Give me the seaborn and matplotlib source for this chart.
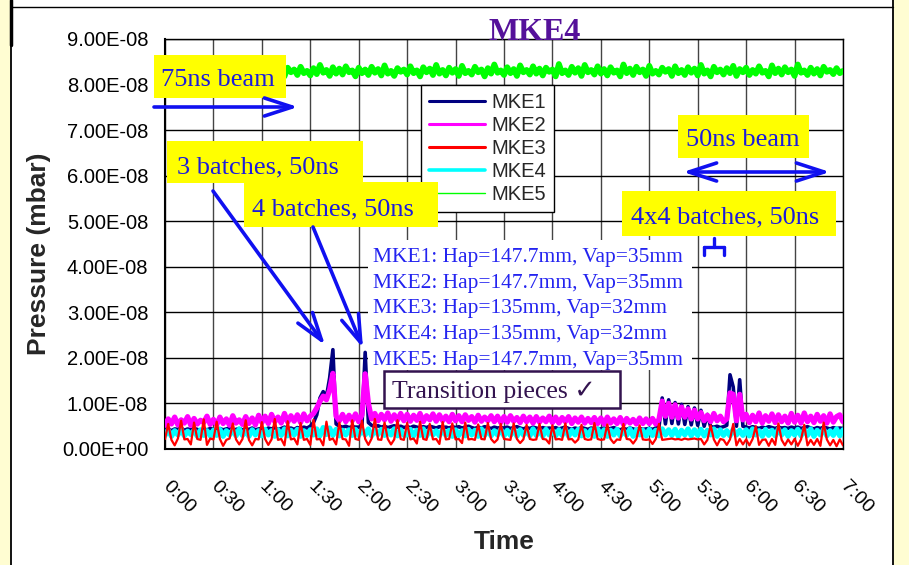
import numpy as np
import matplotlib
matplotlib.use("Agg")
import matplotlib.pyplot as plt
import seaborn as sns
from matplotlib.patches import Rectangle, FancyArrowPatch, ArrowStyle
from matplotlib.lines import Line2D
from matplotlib.ticker import FuncFormatter

# ---------------- data (pressure in units of 1e-8 mbar, sampled every 2 min) ----------------
time_min = np.arange(0, 421, 2)
tick_minutes = [0, 30, 60, 90, 120, 150, 180, 210, 240, 270, 300, 330, 360, 390, 420]
tick_labels = ["0:00", "0:30", "1:00", "1:30", "2:00", "2:30", "3:00", "3:30",
               "4:00", "4:30", "5:00", "5:30", "6:00", "6:30", "7:00"]
y_ticks = [0, 1, 2, 3, 4, 5, 6, 7, 8, 9]
series_names = ["MKE1", "MKE2", "MKE3", "MKE4", "MKE5"]

mke1 = [0.42, 0.45, 0.40, 0.44, 0.43, 0.46, 0.41, 0.44, 0.42, 0.45, 0.43, 0.40, 0.44, 0.42, 0.45,
        0.43, 0.41, 0.45, 0.42, 0.44, 0.46, 0.41, 0.43, 0.45, 0.42, 0.44, 0.43, 0.46, 0.42, 0.44,
        0.45, 0.42, 0.46, 0.44, 0.47, 0.43, 0.45, 0.48, 0.44, 0.46, 0.43, 0.47, 0.45, 0.48, 0.46,
        0.50, 0.58, 0.75, 1.12, 1.26, 1.15, 1.56, 2.18, 0.55, 0.50, 0.48, 0.50, 0.47, 0.49, 0.48,
        0.48, 0.50, 2.12, 0.58, 0.52, 0.49, 0.51, 0.48, 0.50, 0.47, 0.49, 0.51, 0.48, 0.50, 0.47,
        0.49, 0.47, 0.50, 0.48, 0.46, 0.49, 0.47, 0.50, 0.48, 0.46, 0.49, 0.47, 0.48, 0.46, 0.49,
        0.47, 0.49, 0.46, 0.48, 0.50, 0.47, 0.45, 0.48, 0.46, 0.49, 0.47, 0.45, 0.48, 0.46, 0.47,
        0.46, 0.48, 0.45, 0.47, 0.49, 0.46, 0.44, 0.47, 0.45, 0.48, 0.46, 0.44, 0.47, 0.45, 0.46,
        0.45, 0.47, 0.44, 0.46, 0.48, 0.45, 0.43, 0.46, 0.44, 0.47, 0.45, 0.43, 0.46, 0.44, 0.45,
        0.44, 0.46, 0.43, 0.45, 0.47, 0.44, 0.42, 0.45, 0.43, 0.46, 0.44, 0.42, 0.45, 0.43, 0.44,
        0.45, 0.43, 0.46, 0.48, 1.12, 0.55, 1.08, 0.56, 1.02, 0.55, 0.98, 0.54, 0.93, 0.53, 0.90,
        0.52, 0.85, 0.50, 0.76, 0.49, 0.48, 0.50, 0.47, 0.49, 0.52, 1.63, 1.36, 0.50, 1.52, 0.50,
        0.48, 0.46, 0.49, 0.47, 0.45, 0.48, 0.46, 0.49, 0.47, 0.45, 0.48, 0.46, 0.47, 0.45, 0.48,
        0.46, 0.48, 0.45, 0.47, 0.49, 0.46, 0.44, 0.47, 0.45, 0.48, 0.46, 0.44, 0.47, 0.45, 0.46,
        0.45]

mke2 = [0.52, 0.66, 0.55, 0.70, 0.53, 0.64, 0.57, 0.71, 0.52, 0.67, 0.55, 0.63, 0.58, 0.72, 0.54,
        0.65, 0.53, 0.70, 0.56, 0.66, 0.52, 0.73, 0.57, 0.64, 0.54, 0.71, 0.56, 0.68, 0.53, 0.74,
        0.58, 0.72, 0.56, 0.76, 0.60, 0.70, 0.57, 0.78, 0.59, 0.73, 0.61, 0.75, 0.58, 0.77, 0.62,
        0.72, 0.78, 0.90, 1.05, 1.16, 1.08, 1.30, 1.66, 0.72, 0.62, 0.76, 0.60, 0.74, 0.62, 0.77,
        0.60, 0.75, 1.65, 1.00, 0.66, 0.78, 0.62, 0.76, 0.64, 0.79, 0.61, 0.75, 0.63, 0.78, 0.62,
        0.76, 0.61, 0.74, 0.63, 0.78, 0.60, 0.73, 0.64, 0.77, 0.61, 0.75, 0.62, 0.72, 0.60, 0.76,
        0.62, 0.73, 0.60, 0.75, 0.63, 0.71, 0.59, 0.74, 0.61, 0.70, 0.62, 0.73, 0.60, 0.72, 0.58,
        0.71, 0.59, 0.73, 0.61, 0.69, 0.58, 0.72, 0.60, 0.70, 0.57, 0.71, 0.59, 0.68, 0.60, 0.72,
        0.58, 0.70, 0.57, 0.69, 0.60, 0.71, 0.56, 0.68, 0.59, 0.70, 0.57, 0.67, 0.58, 0.69, 0.56,
        0.68, 0.55, 0.70, 0.57, 0.66, 0.56, 0.69, 0.54, 0.67, 0.57, 0.65, 0.55, 0.68, 0.56, 0.66,
        0.56, 0.67, 0.55, 0.65, 1.05, 0.72, 1.00, 0.70, 0.97, 0.68, 0.92, 0.70, 0.88, 0.66, 0.85,
        0.66, 0.80, 0.62, 0.74, 0.60, 0.78, 0.62, 0.72, 0.60, 0.66, 1.23, 1.20, 0.62, 1.20, 0.64,
        0.76, 0.58, 0.74, 0.60, 0.79, 0.57, 0.73, 0.61, 0.77, 0.58, 0.75, 0.60, 0.72, 0.57, 0.78,
        0.59, 0.74, 0.57, 0.79, 0.60, 0.72, 0.58, 0.76, 0.61, 0.73, 0.57, 0.77, 0.59, 0.71, 0.75,
        0.60]

mke3 = [0.22, 0.55, 0.20, 0.08, 0.23, 0.62, 0.21, 0.22, 0.10, 0.58, 0.22, 0.20, 0.65, 0.09, 0.23,
        0.21, 0.60, 0.22, 0.07, 0.20, 0.23, 0.56, 0.21, 0.10, 0.22, 0.63, 0.20, 0.08, 0.22, 0.21,
        0.59, 0.22, 0.09, 0.21, 0.66, 0.20, 0.22, 0.08, 0.61, 0.21, 0.23, 0.10, 0.57, 0.20, 0.22,
        0.09, 0.64, 0.21, 0.22, 0.08, 0.60, 0.20, 0.23, 0.10, 0.58, 0.22, 0.21, 0.07, 0.63, 0.22,
        0.20, 0.62, 0.22, 0.09, 0.23, 0.66, 0.21, 0.20, 0.58, 0.22, 0.10, 0.21, 0.63, 0.22, 0.20,
        0.57, 0.21, 0.23, 0.12, 0.60, 0.22, 0.20, 0.55, 0.21, 0.22, 0.11, 0.59, 0.21, 0.22, 0.56,
        0.21, 0.22, 0.13, 0.58, 0.21, 0.22, 0.20, 0.54, 0.22, 0.21, 0.57, 0.22, 0.14, 0.21, 0.55,
        0.22, 0.21, 0.20, 0.56, 0.22, 0.13, 0.21, 0.53, 0.22, 0.20, 0.21, 0.55, 0.22, 0.21, 0.12,
        0.52, 0.21, 0.22, 0.20, 0.56, 0.21, 0.22, 0.14, 0.21, 0.53, 0.22, 0.20, 0.21, 0.57, 0.22,
        0.20, 0.21, 0.54, 0.22, 0.13, 0.21, 0.20, 0.55, 0.22, 0.21, 0.12, 0.22, 0.52, 0.21, 0.20,
        0.21, 0.11, 0.22, 0.55, 0.20, 0.21, 0.22, 0.23, 0.21, 0.22, 0.20, 0.23, 0.21, 0.22, 0.23,
        0.21, 0.22, 0.10, 0.20, 0.52, 0.21, 0.08, 0.22, 0.20, 0.09, 0.21, 0.55, 0.08, 0.22, 0.10,
        0.21, 0.08, 0.22, 0.50, 0.09, 0.20, 0.21, 0.07, 0.22, 0.09, 0.56, 0.20, 0.08, 0.21, 0.10,
        0.22, 0.07, 0.21, 0.53, 0.08, 0.20, 0.09, 0.22, 0.07, 0.58, 0.21, 0.08, 0.20, 0.06, 0.21,
        0.08]

mke4 = [0.30, 0.42, 0.28, 0.40, 0.31, 0.43, 0.29, 0.39, 0.32, 0.41, 0.28, 0.42, 0.30, 0.40, 0.29,
        0.41, 0.30, 0.43, 0.28, 0.40, 0.31, 0.42, 0.29, 0.44, 0.30, 0.39, 0.28, 0.42, 0.31, 0.40,
        0.29, 0.43, 0.31, 0.40, 0.28, 0.42, 0.30, 0.44, 0.29, 0.41, 0.31, 0.43, 0.28, 0.40, 0.30,
        0.42, 0.31, 0.44, 0.29, 0.47, 0.32, 0.46, 0.30, 0.43, 0.29, 0.41, 0.31, 0.42, 0.30, 0.43,
        0.30, 0.42, 0.31, 0.44, 0.29, 0.41, 0.32, 0.43, 0.30, 0.40, 0.31, 0.44, 0.29, 0.42, 0.30,
        0.31, 0.43, 0.29, 0.41, 0.30, 0.44, 0.28, 0.42, 0.31, 0.40, 0.29, 0.43, 0.30, 0.41, 0.28,
        0.42, 0.30, 0.40, 0.29, 0.43, 0.31, 0.41, 0.28, 0.44, 0.30, 0.42, 0.29, 0.40, 0.31, 0.43,
        0.29, 0.41, 0.30, 0.43, 0.28, 0.42, 0.31, 0.40, 0.29, 0.44, 0.30, 0.41, 0.28, 0.43, 0.31,
        0.40, 0.29, 0.42, 0.30, 0.44, 0.28, 0.41, 0.31, 0.43, 0.29, 0.40, 0.30, 0.42, 0.28, 0.44,
        0.30, 0.42, 0.28, 0.41, 0.31, 0.43, 0.29, 0.40, 0.30, 0.44, 0.28, 0.42, 0.31, 0.41, 0.29,
        0.43, 0.30, 0.41, 0.29, 0.44, 0.31, 0.42, 0.30, 0.43, 0.28, 0.41, 0.31, 0.44, 0.29, 0.42,
        0.30, 0.43, 0.29, 0.41, 0.31, 0.44, 0.28, 0.42, 0.30, 0.40, 0.29, 0.43, 0.31, 0.41, 0.30,
        0.42, 0.29, 0.44, 0.31, 0.40, 0.28, 0.43, 0.30, 0.41, 0.29, 0.44, 0.31, 0.42, 0.28, 0.40,
        0.31, 0.43, 0.29, 0.42, 0.30, 0.44, 0.28, 0.41, 0.31, 0.43, 0.29, 0.40, 0.30, 0.44, 0.29,
        0.42]

mke5 = [8.30, 8.20, 8.36, 8.24, 8.33, 8.19, 8.38, 8.25, 8.31, 8.21, 8.40, 8.26, 8.34, 8.22, 8.37,
        8.23, 8.32, 8.18, 8.39, 8.27, 8.35, 8.21, 8.42, 8.24, 8.30, 8.19, 8.36, 8.25, 8.33, 8.20,
        8.38, 8.26, 8.34, 8.22, 8.41, 8.24, 8.31, 8.18, 8.37, 8.27, 8.33, 8.21, 8.39, 8.25, 8.30,
        8.20, 8.36, 8.23, 8.43, 8.26, 8.32, 8.19, 8.38, 8.24, 8.35, 8.22, 8.40, 8.27, 8.31, 8.18,
        8.37, 8.25, 8.33, 8.21, 8.39, 8.26, 8.34, 8.20, 8.42, 8.24, 8.30, 8.19, 8.36, 8.28, 8.33,
        8.22, 8.40, 8.25, 8.31, 8.18, 8.38, 8.27, 8.35, 8.21, 8.43, 8.24, 8.32, 8.20, 8.37, 8.26,
        8.34, 8.19, 8.41, 8.25, 8.30, 8.22, 8.39, 8.27, 8.33, 8.18, 8.36, 8.24, 8.44, 8.26, 8.31,
        8.21, 8.38, 8.25, 8.34, 8.19, 8.42, 8.27, 8.32, 8.22, 8.40, 8.24, 8.35, 8.20, 8.37, 8.28,
        8.33, 8.18, 8.45, 8.25, 8.31, 8.21, 8.39, 8.26, 8.36, 8.19, 8.43, 8.27, 8.32, 8.22, 8.40,
        8.24, 8.34, 8.20, 8.38, 8.26, 8.31, 8.18, 8.44, 8.25, 8.35, 8.21, 8.39, 8.27, 8.33, 8.19,
        8.41, 8.24, 8.30, 8.22, 8.37, 8.28, 8.34, 8.19, 8.40, 8.25, 8.32, 8.21, 8.38, 8.26, 8.35,
        8.20, 8.43, 8.24, 8.31, 8.18, 8.39, 8.27, 8.33, 8.22, 8.36, 8.25, 8.41, 8.19, 8.34, 8.27,
        8.37, 8.21, 8.32, 8.24, 8.40, 8.26, 8.30, 8.18, 8.42, 8.25, 8.35, 8.22, 8.38, 8.27, 8.33,
        8.19, 8.44, 8.26, 8.31, 8.21, 8.37, 8.24, 8.34, 8.20, 8.39, 8.28, 8.32, 8.23, 8.36, 8.25,
        8.30]

aperture_notes = ["MKE1: Hap=147.7mm, Vap=35mm",
                  "MKE2: Hap=147.7mm, Vap=35mm",
                  "MKE3: Hap=135mm, Vap=32mm",
                  "MKE4: Hap=135mm, Vap=32mm",
                  "MKE5: Hap=147.7mm, Vap=35mm"]

for arr in (mke1, mke2, mke3, mke4, mke5):
    assert len(arr) == len(time_min), len(arr)

# ---------------- styling ----------------
sns.set_style("white")
plt.rcParams["font.family"] = ["Liberation Sans", "DejaVu Sans"]
SERIF = ["Liberation Serif", "DejaVu Serif", "DejaVu Sans"]

W, H = 909, 565
fig = plt.figure(figsize=(W / 100, H / 100), dpi=100, facecolor="#FFFDD2")


def fx(x):
    return x / W


def fy(y):
    return 1 - y / H


# white slide panel with frame lines
fig.add_artist(Rectangle((fx(11), 0), (893 - 11) / W, 1, transform=fig.transFigure,
                         facecolor="white", edgecolor="none", zorder=-10))
for (x0, y0, x1, y1, lw) in [(11, 7, 11, 565, 1.3), (893, 0, 893, 565, 1.3),
                             (11, 7, 893, 7, 1.0), (11, 0, 11, 45, 2.5)]:
    fig.add_artist(Line2D([fx(x0), fx(x1)], [fy(y0), fy(y1)], transform=fig.transFigure,
                          color="black", lw=lw, zorder=-9))

ax = fig.add_axes([fx(165), fy(449), (843 - 165) / W, (449 - 39) / H])
ax.set_facecolor("white")

colors = {"MKE1": "#000080", "MKE2": "#FF00FF", "MKE3": "#FF0000",
          "MKE4": "#00FFFF", "MKE5": "#00FF00"}
data = {"MKE1": mke1, "MKE2": mke2, "MKE3": mke3, "MKE4": mke4, "MKE5": mke5}
widths = {"MKE1": 2.6, "MKE2": 3.8, "MKE3": 1.6, "MKE4": 3.8, "MKE5": 4.2}
draw_order = ["MKE5", "MKE1", "MKE2", "MKE4", "MKE3"]
for name in draw_order:
    sns.lineplot(x=time_min, y=np.array(data[name]) * 1e-8, color=colors[name],
                 lw=widths[name], ax=ax, legend=False, zorder=3)

ax.set_xlim(0, 420)
ax.set_ylim(0, 9e-8)
ax.set_xticks(tick_minutes)
ax.set_xticklabels(tick_labels, rotation=-45, ha="left", va="center",
                   rotation_mode="anchor", fontsize=14)
ax.set_yticks([v * 1e-8 for v in y_ticks])
ax.yaxis.set_major_formatter(FuncFormatter(lambda v, p: f"{v:.2E}"))
ax.tick_params(axis="y", direction="inout", length=10, width=1, pad=7, labelsize=14.5,
               colors="black")
ax.tick_params(axis="x", direction="out", length=7, width=1, pad=18, colors="black")
ax.set_axisbelow(True)
ax.grid(axis="y", color="black", lw=1.0)
ax.grid(axis="x", color="#444444", lw=1.0)
for s in ax.spines.values():
    s.set_color("black")
    s.set_linewidth(1.0)
ax.spines["left"].set_linewidth(1.5)
ax.spines["bottom"].set_linewidth(1.5)

ax.set_xlabel("Time", fontsize=19, fontweight="bold")
ax.xaxis.set_label_coords(0.5, (449 - 530) / 410)
ax.set_ylabel("Pressure (mbar)", fontsize=19, fontweight="bold", va="center", ha="center")
ax.yaxis.set_label_coords((39 - 165) / 678, (449 - 254) / 410)

# legend
handles = [Line2D([], [], color=colors["MKE1"], lw=2.2),
           Line2D([], [], color=colors["MKE2"], lw=2.2),
           Line2D([], [], color=colors["MKE3"], lw=2.2),
           Line2D([], [], color=colors["MKE4"], lw=2.6),
           Line2D([], [], color=colors["MKE5"], lw=1.0)]
leg = ax.legend(handles, series_names, loc="upper left",
                bbox_to_anchor=(fx(421), fy(85)), bbox_transform=fig.transFigure,
                borderaxespad=0, frameon=True, fancybox=False, framealpha=1,
                edgecolor="black", fontsize=14.5, handlelength=2.8, handletextpad=0.3,
                labelspacing=0.2, borderpad=0.4)
leg.get_frame().set_linewidth(1.0)
leg.set_zorder(5)

# title
fig.text(fx(535), fy(40), "MKE4", ha="center", va="baseline", fontsize=23,
         fontweight="bold", family=SERIF, color="#55119A")

BLUE_T = "#1C1CDC"
BLUE_A = "#1010F0"


def box(x0, y0, x1, y1, fc, ec="none", lw=0.0, z=2):
    fig.add_artist(Rectangle((fx(x0), fy(y1)), (x1 - x0) / W, (y1 - y0) / H,
                             transform=fig.transFigure, facecolor=fc, edgecolor=ec,
                             lw=lw, zorder=z))


def label(x, y, s, size, color=BLUE_T, z=3):
    fig.text(fx(x), fy(y), s, ha="left", va="baseline", fontsize=size,
             family=SERIF, color=color, zorder=z)


def arrow(p0, p1, style="->", z=2.5):
    st = ArrowStyle(style, head_length=2.0, head_width=0.65)
    fig.add_artist(FancyArrowPatch((fx(p0[0]), fy(p0[1])), (fx(p1[0]), fy(p1[1])),
                                   transform=fig.transFigure, arrowstyle=st,
                                   mutation_scale=10, lw=2.6, color=BLUE_A,
                                   shrinkA=0, shrinkB=0, zorder=z))


# yellow callouts
box(154, 55, 286, 98, "#FFFF00")
label(161, 86, "75ns beam", 19)
arrow((154, 107), (298, 107))

box(167, 141, 363, 183, "#FFFF00")
label(177, 173, "3 batches, 50ns", 19)
arrow((213, 191), (325, 345))

arrow((313, 227), (363, 348))
box(244, 182, 438, 227, "#FFFF00")
label(252, 215, "4 batches, 50ns", 19)

box(678, 115, 809, 158, "#FFFF00")
label(686, 146, "50ns beam", 19)
arrow((683, 172), (830, 172), style="<->")

box(622, 191, 836, 236, "#FFFF00")
label(631, 223, "4x4 batches, 50ns", 19)

# small brace marker
for (xs, ys) in [([714, 714], [238, 247]), ([704, 724], [247, 247]),
                 ([704, 704], [247, 255]), ([724, 724], [247, 255])]:
    fig.add_artist(Line2D([fx(v) for v in xs], [fy(v) for v in ys], transform=fig.transFigure,
                          color=BLUE_A, lw=2.4, solid_capstyle="round", zorder=3))

# aperture notes on white background
box(368, 240, 692, 370, "white", z=1.5)
for i, note in enumerate(aperture_notes):
    label(373, [262, 288, 313, 339, 365][i], note, 15.5, color="#2424F0")

# transition pieces box
box(384, 371, 620, 408, "white", ec="#33134F", lw=1.8)
fig.text(fx(392), fy(398), "Transition pieces \u2713", ha="left", va="baseline",
         fontsize=18.5, family=SERIF, color="#33134F", zorder=3)

fig.savefig("out.png", dpi=100, facecolor=fig.get_facecolor())
